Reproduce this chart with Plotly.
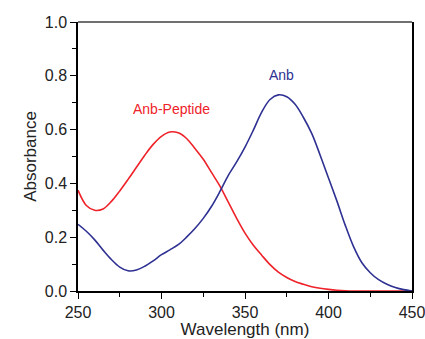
import plotly.graph_objects as go

# Anb (blue)
anb_wl = list(range(250, 451, 5))
anb_abs = [0.248, 0.222, 0.19, 0.152, 0.117, 0.089, 0.075, 0.078, 0.092, 0.112, 0.135,
           0.153, 0.172, 0.200, 0.232, 0.27, 0.315, 0.37, 0.43, 0.48, 0.535, 0.598,
           0.665, 0.712, 0.729, 0.722, 0.694, 0.645, 0.585, 0.505, 0.42, 0.335, 0.245,
           0.165, 0.105, 0.068, 0.042, 0.025, 0.013, 0.005, 0.0]

# Anb-Peptide (red)
pep_wl = list(range(250, 451, 5))
pep_abs = [0.375, 0.318, 0.300, 0.305, 0.333, 0.372, 0.415, 0.46, 0.505, 0.545, 0.575,
           0.591, 0.588, 0.567, 0.53, 0.49, 0.44, 0.39, 0.33, 0.27, 0.215, 0.17, 0.133,
           0.098, 0.07, 0.05, 0.035, 0.025, 0.016, 0.01, 0.006, 0.003, 0.001, 0.0, 0.0,
           0.0, 0.0, 0.0, 0.0, 0.0, 0.0]

x_ticks = [250, 300, 350, 400, 450]
y_ticks = [0.0, 0.2, 0.4, 0.6, 0.8, 1.0]

RED = "#EE2229"
BLUE = "#2E3192"
FONT = "Liberation Sans, Arial, sans-serif"

fig = go.Figure()
fig.add_trace(go.Scatter(x=pep_wl, y=pep_abs, mode="lines",
                         line=dict(color=RED, width=1.6, shape="spline", smoothing=1.0),
                         showlegend=False))
fig.add_trace(go.Scatter(x=anb_wl, y=anb_abs, mode="lines",
                         line=dict(color=BLUE, width=1.6, shape="spline", smoothing=1.0),
                         showlegend=False))

fig.add_annotation(x=305.8, y=0.675, text="Anb-Peptide", showarrow=False,
                   font=dict(color=RED, size=14, family=FONT))
fig.add_annotation(x=372, y=0.803, text="Anb", showarrow=False,
                   font=dict(color=BLUE, size=14, family=FONT))

fig.add_shape(type="line", xref="paper", yref="paper", x0=0, x1=1, y0=1, y1=1,
              line=dict(color="#707070", width=2))

fig.update_layout(
    width=425, height=339,
    margin=dict(l=78, r=13, t=22, b=48),
    paper_bgcolor="white", plot_bgcolor="white",
    font=dict(family=FONT, color="#222222", size=16),
    xaxis=dict(range=[250, 450], tickvals=x_ticks, ticktext=[str(v) for v in x_ticks],
               automargin=False, ticklabeloverflow="allow",
               showgrid=False, zeroline=False, showline=True, linecolor="black",
               linewidth=1.5, ticks="outside", ticklen=6, tickwidth=1.2, tickcolor="black",
               minor=dict(dtick=25, tick0=250, ticks="outside", ticklen=4, tickwidth=1,
                          tickcolor="black"),
               tickfont=dict(size=16),
               title=dict(text="Wavelength (nm)", font=dict(size=17), standoff=6)),
    yaxis=dict(range=[0, 1.0], tickvals=y_ticks, ticktext=["%.1f" % v for v in y_ticks],
               automargin=False, ticklabeloverflow="allow",
               showgrid=False, zeroline=False, showline=True, linecolor="black",
               linewidth=1.5, mirror=True, ticks="outside", ticklen=6, tickwidth=1.2,
               tickcolor="black",
               minor=dict(dtick=0.1, tick0=0, ticks="outside", ticklen=4, tickwidth=1,
                          tickcolor="black"),
               tickfont=dict(size=16),
               title=dict(text="Absorbance", font=dict(size=17), standoff=4)),
)

fig.write_html("out.html", config={"displayModeBar": False},
               post_script="document.body.style.margin='0';document.body.style.overflow='hidden';")
